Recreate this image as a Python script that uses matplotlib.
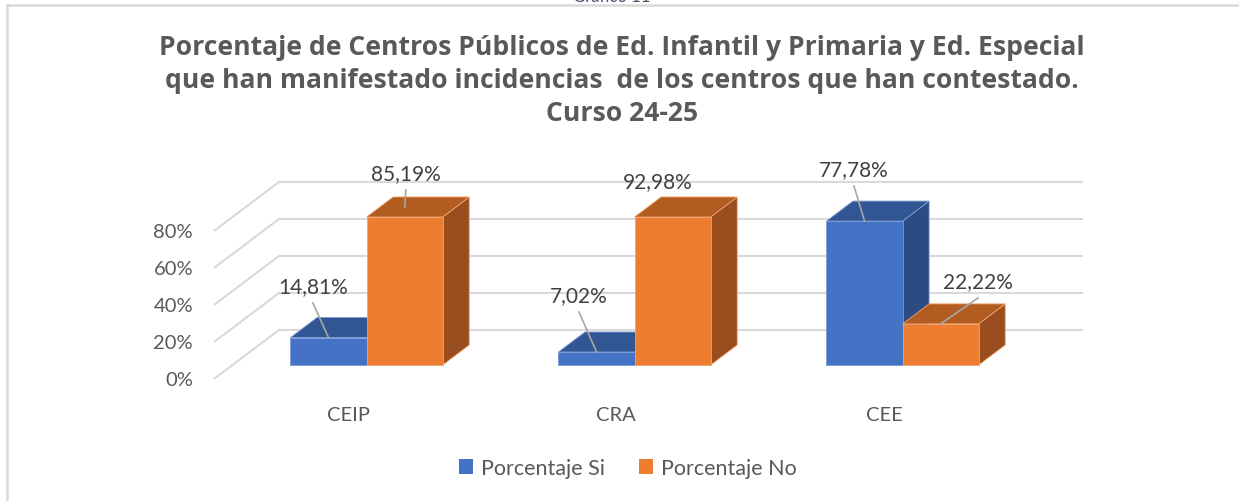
import matplotlib
matplotlib.use('Agg')
import matplotlib.pyplot as plt
from matplotlib.patches import Polygon, Patch
from matplotlib.lines import Line2D

plt.rcParams['font.family'] = ['Lato', 'DejaVu Sans']

# datos del gráfico
categorias = ['CEIP', 'CRA', 'CEE']
series = ['Porcentaje Si', 'Porcentaje No']
pct_si = [0.1481, 0.0702, 0.7778]
pct_no = [0.8519, 0.9298, 0.2222]
etiquetas_si = ['14,81%', '7,02%', '77,78%']
etiquetas_no = ['85,19%', '92,98%', '22,22%']
ticks = [0.0, 0.2, 0.4, 0.6, 0.8]
tick_labels = ['0%', '20%', '40%', '60%', '80%']
y_max = 0.8  # el eje se corta en 80%

# estilo / geometría 3D (proyección oblicua)
DX, DY = 0.2425, 0.265       # desplazamiento de profundidad completa
Z0, DZ = 0.286, 0.408        # posición y fondo de las barras
ANCHO = 0.284
colores = {
    'Porcentaje Si': ('#4472C4', '#325694', '#2B4B82', '#7C9CD6'),
    'Porcentaje No': ('#ED7D31', '#B35C22', '#984E1E', '#F3A36B'),
}
# posición de las etiquetas (coordenadas de datos) y si llevan línea guía
pos_si = [(-0.131, 0.503), (0.862, 0.454), (1.888, 1.135)]
pos_no = [(0.216, 1.114), (1.157, 1.070), (2.351, 0.530)]
guia_si = [0.0, 0.0, 0.0]
guia_no = [0.2, None, 0.0]

GRIS_TXT = '#595959'
GRIS_LAB = '#404040'


def proj(x, y, z):
    return (x + z * DX, y + z * DY)


fig = plt.figure(figsize=(12.39, 5.02), dpi=100)
ax = fig.add_axes([0.10783, 0.13247, 0.82195, 0.58964])
ax.set_xlim(-0.8, 3.0)
ax.set_ylim(-0.3, 1.3)
ax.axis('off')

# rejilla (suelo inclinado + pared del fondo)
x_ini, x_fin = -0.5, 2.5
for v, lab in zip(ticks, tick_labels):
    p0 = proj(x_ini, v, 0)
    p1 = proj(x_ini, v, 1)
    p2 = proj(x_fin, v, 1)
    ax.plot([p0[0], p1[0], p2[0]], [p0[1], p1[1], p2[1]], color='#D9D9D9',
            lw=1.5, clip_on=False, zorder=1, solid_capstyle='butt')
    ax.text(x_ini - 0.078, v, lab, ha='right', va='center', fontsize=14.5,
            color=GRIS_TXT)


def barra3d(xc, h, cols):
    front, top, side, edge = cols
    x0, x1 = xc, xc + ANCHO
    za, zb = Z0, Z0 + DZ
    cara_f = [proj(x0, 0, za), proj(x1, 0, za), proj(x1, h, za), proj(x0, h, za)]
    cara_t = [proj(x0, h, za), proj(x1, h, za), proj(x1, h, zb), proj(x0, h, zb)]
    cara_s = [proj(x1, 0, za), proj(x1, 0, zb), proj(x1, h, zb), proj(x1, h, za)]
    for pts, c in ((cara_s, side), (cara_t, top), (cara_f, front)):
        ax.add_patch(Polygon(pts, closed=True, facecolor=c, edgecolor=edge,
                             lw=0.6, clip_on=False, zorder=2))


datos = [(pct_si, etiquetas_si, pos_si, guia_si, -ANCHO),
         (pct_no, etiquetas_no, pos_no, guia_no, 0.0)]

for i in range(len(categorias)):
    for s, (vals, etqs, posiciones, guias, off) in enumerate(datos):
        h = min(vals[i], y_max)
        xc = i + off
        barra3d(xc, h, colores[series[s]])

for i in range(len(categorias)):
    for s, (vals, etqs, posiciones, guias, off) in enumerate(datos):
        h = min(vals[i], y_max)
        xc = i + off
        lx, ly = posiciones[i]
        ax.text(lx, ly, etqs[i], ha='center', va='center', fontsize=15,
                color=GRIS_LAB, zorder=5)
        if guias[i] is not None:
            ex, ey = proj(xc + ANCHO / 2, h, Z0)
            ey += guias[i] * DY
            ax.plot([lx, ex], [ly - 0.092, ey], color='#A6A6A6', lw=1.2,
                    clip_on=False, zorder=4)

# categorías
for i, cat in enumerate(categorias):
    ax.text(i, -0.19, cat, ha='center', va='center', fontsize=14.5, color=GRIS_TXT)

# título
titulo = ['Porcentaje de Centros Públicos de Ed. Infantil y Primaria y Ed. Especial',
          'que han manifestado incidencias  de los centros que han contestado.',
          'Curso 24-25']
for k, linea in enumerate(titulo):
    fig.text(622 / 1239, 1 - (48 + 33 * k) / 502, linea, ha='center', va='center',
             fontsize=19.1, fontweight='bold', color=GRIS_TXT,
             family=['Open Sans', 'DejaVu Sans'])

fig.text(612 / 1239, 1 + 3 / 502, 'Gráfico 11', ha='center', va='center',
         fontsize=12, color='#44546A')

# borde del gráfico
fig.add_artist(Line2D([7 / 1239, 1], [1 - 6 / 502, 1 - 6 / 502], color='#D9D9D9', lw=1.8))
fig.add_artist(Line2D([7 / 1239, 7 / 1239], [0, 1 - 6 / 502], color='#D9D9D9', lw=1.8))

# leyenda
handles = [Patch(facecolor=colores[s][0], edgecolor='none', label=s) for s in series]
fig.legend(handles=handles, loc='center', bbox_to_anchor=(628 / 1239, 1 - 469 / 502),
           ncol=2, frameon=False, fontsize=15.5, handlelength=0.65, handleheight=0.65,
           handletextpad=0.35, columnspacing=1.6, labelcolor=GRIS_TXT)

plt.savefig('out.png', dpi=100)
